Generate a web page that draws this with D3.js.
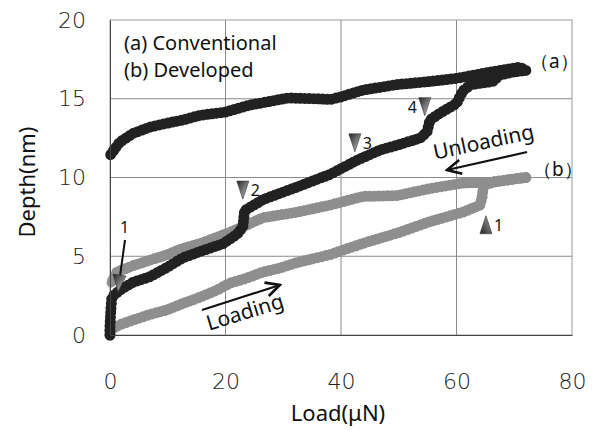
<!DOCTYPE html>
<meta charset="utf-8">
<style>
body { margin: 0; background: #fff; }
text { font-family: "Noto Sans", sans-serif; fill: #111; }
.tick text { font-family: "DejaVu Sans", sans-serif; font-weight: 200; font-size: 22px; fill: #222; }
</style>
<svg width="598" height="430"></svg>
<script src="https://cdn.jsdelivr.net/npm/d3@7"></script>
<script>
var loadTicks = [0, 20, 40, 60, 80];
var depthTicks = [0, 5, 10, 15, 20];

// (a) conventional, loading then unloading: [load uN, depth nm]
var aLoading = [[0, 0], [0, 0.6], [0.1, 1.3], [0.2, 1.9], [0.3, 2.3], [0.6, 2.5], [1.7, 2.85], [4.0, 3.35],
  [6.9, 3.7], [9.9, 4.3], [12.6, 4.9], [15.6, 5.3], [19.6, 5.8], [22.0, 6.4], [23.0, 6.85], [23.3, 7.9],
  [26.5, 8.6], [32.4, 9.4], [38.1, 10.2], [42.8, 11.1], [46.8, 11.75], [49.7, 12.05], [53.7, 12.5],
  [54.9, 12.9], [55.4, 13.65], [57.2, 14.1], [60.0, 14.7], [61.1, 15.5], [62.5, 15.9], [64.5, 16.0],
  [66.3, 16.1], [67.5, 16.5], [69.8, 16.7], [72.0, 16.8]];
var aUnloading = [[72.0, 16.8], [71.0, 17.0], [67.5, 16.8], [64.5, 16.6], [60.1, 16.3], [55.4, 16.1],
  [49.7, 15.9], [43.8, 15.55], [39.8, 15.1], [38.1, 14.95], [35.8, 15.0], [30.8, 15.05], [27.2, 14.8],
  [24.2, 14.6], [19.9, 14.15], [15.6, 13.95], [12.6, 13.65], [9.9, 13.45], [6.9, 13.2], [4.0, 12.8],
  [1.7, 12.25], [0.4, 11.6], [0, 11.4]];

// (b) developed
var bLoading = [[0, 0], [0, 0.3], [1.7, 0.65], [4.0, 0.95], [6.9, 1.3], [9.9, 1.6], [12.6, 2.0],
  [15.6, 2.4], [18.5, 2.85], [20.8, 3.3], [23.6, 3.6], [26.5, 4.0], [29.4, 4.25], [32.4, 4.6],
  [35.2, 4.85], [38.1, 5.1], [40.0, 5.35], [44.5, 5.9], [50.0, 6.5], [55.4, 7.2], [61.1, 7.8],
  [64.1, 8.25], [64.4, 8.7], [64.7, 9.5], [66.3, 9.7], [69.8, 9.9], [72.0, 10.0]];
var bUnloading = [[72.0, 10.0], [69.8, 9.9], [65.8, 9.7], [61.1, 9.65], [55.4, 9.3], [49.7, 8.85],
  [43.8, 8.8], [38.1, 8.25], [32.4, 7.8], [26.5, 7.45], [21.3, 6.6], [18.5, 6.2], [15.6, 5.8],
  [12.6, 5.5], [9.9, 5.1], [6.9, 4.75], [4.0, 4.4], [1.2, 4.0], [0.5, 3.5], [0.2, 3.3]];

// pop-in markers: [load, depth, label, direction]
var markers = [[23.0, 9.2, '2', 'down'], [42.4, 12.2, '3', 'down'], [54.5, 14.5, '4', 'down'], [65.1, 7.0, '1', 'up']];

var svg = d3.select('svg');
var x = d3.scaleLinear().domain([0, 80]).range([110, 572]);
var y = d3.scaleLinear().domain([0, 20]).range([335, 20]);

var defs = svg.append('defs');
var gd = defs.append('linearGradient').attr('id', 'gdown').attr('x1', 0).attr('y1', 0).attr('x2', 1).attr('y2', 1);
gd.append('stop').attr('offset', '0%').attr('stop-color', '#222');
gd.append('stop').attr('offset', '100%').attr('stop-color', '#ccc');
var gu = defs.append('linearGradient').attr('id', 'gup').attr('x1', 0).attr('y1', 1).attr('x2', 1).attr('y2', 0);
gu.append('stop').attr('offset', '0%').attr('stop-color', '#222');
gu.append('stop').attr('offset', '100%').attr('stop-color', '#aaa');
defs.append('marker').attr('id', 'arr').attr('viewBox', '0 0 10 10').attr('refX', 9).attr('refY', 5)
  .attr('markerWidth', 8).attr('markerHeight', 8).attr('orient', 'auto')
  .append('path').attr('d', 'M1,1L9,5L1,9').attr('fill', 'none').attr('stroke', '#111').attr('stroke-width', 1.5);

// grid
svg.append('g').selectAll('line').data(loadTicks.slice(1, -1)).enter().append('line')
  .attr('x1', d => x(d)).attr('x2', d => x(d)).attr('y1', y(0)).attr('y2', y(20))
  .attr('stroke', '#8a8a8a').attr('stroke-width', 1);
svg.append('g').selectAll('line').data(depthTicks.slice(1, -1)).enter().append('line')
  .attr('y1', d => y(d)).attr('y2', d => y(d)).attr('x1', x(0)).attr('x2', x(80))
  .attr('stroke', '#8a8a8a').attr('stroke-width', 1);
svg.append('rect').attr('x', x(0)).attr('y', y(20)).attr('width', x(80) - x(0)).attr('height', y(0) - y(20))
  .attr('fill', 'none').attr('stroke', '#9a9a9a').attr('stroke-width', 1);

// curves
var line = d3.line().x(d => x(d[0])).y(d => y(d[1]));
function band(data, color) {
  svg.append('path').attr('d', line(data)).attr('fill', 'none').attr('stroke', color)
    .attr('stroke-width', 9).attr('stroke-linejoin', 'round').attr('stroke-linecap', 'round');
  svg.append('path').attr('d', line(data)).attr('fill', 'none').attr('stroke', color)
    .attr('stroke-width', 11).attr('stroke-linecap', 'round').attr('stroke-dasharray', '0 4.5');
}
band(bLoading, '#8e8e8e');
band(bUnloading, '#8e8e8e');
band(aLoading, '#212121');
band(aUnloading, '#212121');

// axes
svg.append('g').attr('transform', 'translate(0,' + y(0) + ')')
  .call(d3.axisBottom(x).tickValues(loadTicks).tickSize(0).tickPadding(38))
  .call(g => g.select('.domain').attr('stroke', '#444'));
svg.append('g').attr('transform', 'translate(' + x(0) + ',0)')
  .call(d3.axisLeft(y).tickValues(depthTicks).tickSize(0).tickPadding(24))
  .call(g => g.select('.domain').attr('stroke', '#444'));

svg.append('text').attr('x', 338).attr('y', 421).attr('text-anchor', 'middle').attr('font-size', 22).text('Load(μN)');
svg.append('text').attr('transform', 'translate(35,182) rotate(-90)').attr('text-anchor', 'middle')
  .attr('font-size', 22).text('Depth(nm)');

// legend
svg.append('text').attr('x', 124).attr('y', 50).attr('font-size', 20).text('(a) Conventional');
svg.append('text').attr('x', 124).attr('y', 77).attr('font-size', 20).text('(b) Developed');
svg.append('text').attr('x', 530).attr('y', 68).attr('font-size', 19).text('（a）');
svg.append('text').attr('x', 533).attr('y', 176).attr('font-size', 19).text('（b）');

// markers
markers.forEach(function (m) {
  var cx = x(m[0]), cy = y(m[1]);
  if (m[3] === 'down') {
    svg.append('path').attr('d', 'M' + (cx - 6) + ',' + (cy - 9) + 'L' + (cx + 6) + ',' + (cy - 9) + 'L' + cx + ',' + (cy + 9) + 'Z')
      .attr('fill', 'url(#gdown)').attr('stroke', '#333').attr('stroke-width', 0.6);
  } else {
    svg.append('path').attr('d', 'M' + (cx - 6) + ',' + (cy + 9) + 'L' + (cx + 6) + ',' + (cy + 9) + 'L' + cx + ',' + (cy - 9) + 'Z')
      .attr('fill', 'url(#gup)').attr('stroke', '#333').attr('stroke-width', 0.6);
  }
  var lx = m[2] === '4' ? cx - 17 : cx + 8;
  svg.append('text').attr('x', lx).attr('y', cy + 6).attr('font-size', 16).text(m[2]);
});

// "1" arrow for (a)
svg.append('text').attr('x', 120).attr('y', 233).attr('font-size', 16).text('1');
svg.append('line').attr('x1', 125).attr('y1', 240).attr('x2', 120).attr('y2', 276).attr('stroke', '#111').attr('stroke-width', 2);
svg.append('path').attr('d', 'M113,274L126,276L118,292Z').attr('fill', 'url(#gdown)').attr('stroke', '#333').attr('stroke-width', 0.6);

// Loading / Unloading arrows
svg.append('line').attr('x1', 202).attr('y1', 310).attr('x2', 280).attr('y2', 285)
  .attr('stroke', '#111').attr('stroke-width', 2.2).attr('marker-end', 'url(#arr)');
svg.append('text').attr('transform', 'translate(247,319) rotate(-17)').attr('text-anchor', 'middle')
  .attr('font-size', 21).text('Loading');
svg.append('line').attr('x1', 527).attr('y1', 152).attr('x2', 447).attr('y2', 170)
  .attr('stroke', '#111').attr('stroke-width', 2.2).attr('marker-end', 'url(#arr)');
svg.append('text').attr('transform', 'translate(485,149) rotate(-12)').attr('text-anchor', 'middle')
  .attr('font-size', 21).text('Unloading');
</script>
